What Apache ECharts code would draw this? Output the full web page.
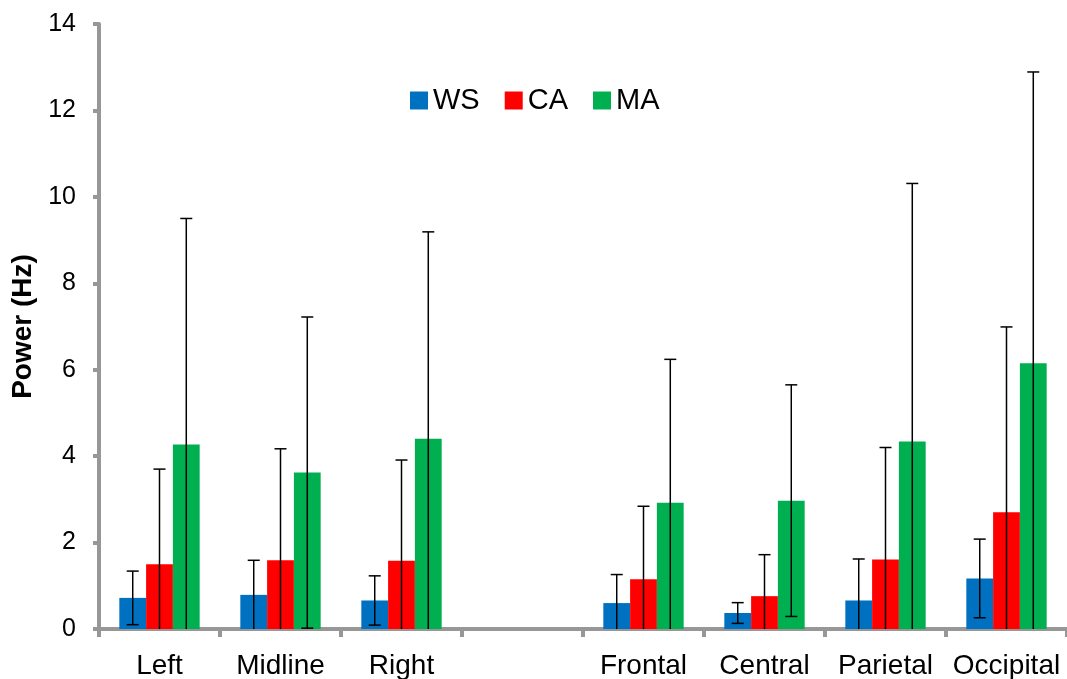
<!DOCTYPE html>
<html>
<head>
<meta charset="utf-8">
<script src="https://cdn.jsdelivr.net/npm/echarts@6/dist/echarts.min.js"></script>
<style>
html,body{margin:0;padding:0;background:#fff;}
#chart{width:1067px;height:679px;}
</style>
</head>
<body>
<div id="chart"></div>
<script>
var categories = ['Left', 'Midline', 'Right', '', 'Frontal', 'Central', 'Parietal', 'Occipital'];
var yTicks = [0, 2, 4, 6, 8, 10, 12, 14];
var wsValues = [0.72, 0.79, 0.66, null, 0.60, 0.37, 0.66, 1.17];
var wsErrors = [0.62, 0.80, 0.57, null, 0.66, 0.24, 0.96, 0.91];
var caValues = [1.50, 1.59, 1.58, null, 1.15, 0.76, 1.61, 2.70];
var caErrors = [2.20, 2.58, 2.33, null, 1.69, 0.96, 2.59, 4.29];
var maValues = [4.27, 3.62, 4.40, null, 2.92, 2.97, 4.34, 6.15];
var maErrors = [5.23, 3.60, 4.79, null, 3.32, 2.68, 5.97, 6.74];

var FONT = '"Liberation Sans", Arial, sans-serif';
var GAP = 0.336;

function errData(vals, errs) {
  var out = [];
  for (var i = 0; i < vals.length; i++) {
    if (vals[i] == null) continue;
    out.push([i, vals[i], errs[i]]);
  }
  return out;
}

function errSeries(name, vals, errs, k) {
  return {
    type: 'custom',
    name: name,
    data: errData(vals, errs),
    encode: { x: 0, y: 1 },
    z: 10,
    silent: true,
    renderItem: function (params, api) {
      var idx = api.value(0);
      var v = api.value(1);
      var e = api.value(2);
      var band = api.size([1, 0])[0];
      var barW = band * (1 - GAP) / 3;
      var cx = api.coord([idx, v])[0] + (k - 1) * barW;
      var hi = v + e;
      var lo = v - e;
      var yHi = api.coord([idx, hi])[1];
      var loClipped = lo < 0;
      var yLo = api.coord([idx, loClipped ? 0 : lo])[1];
      var cap = 6;
      var style = { stroke: '#000', lineWidth: 1.5 };
      var children = [
        { type: 'line', shape: { x1: cx, y1: yHi, x2: cx, y2: yLo }, style: style },
        { type: 'line', shape: { x1: cx - cap, y1: yHi, x2: cx + cap, y2: yHi }, style: style }
      ];
      if (!loClipped) {
        children.push({ type: 'line', shape: { x1: cx - cap, y1: yLo, x2: cx + cap, y2: yLo }, style: style });
      }
      return { type: 'group', children: children };
    }
  };
}

var chart = echarts.init(document.getElementById('chart'), null, { renderer: 'canvas' });
chart.setOption({
  animation: false,
  backgroundColor: '#fff',
  textStyle: { fontFamily: FONT },
  grid: { left: 99, right: 0, top: 24, bottom: 50, containLabel: false, outerBoundsMode: 'none' },
  legend: {
    data: ['WS', 'CA', 'MA'],
    left: 405,
    top: 81,
    icon: 'rect',
    itemWidth: 18,
    itemHeight: 18,
    itemGap: 25,
    textStyle: { fontSize: 29, color: '#000', fontFamily: FONT }
  },
  xAxis: {
    type: 'category',
    data: categories,
    axisLine: { lineStyle: { color: '#979797', width: 4 } },
    axisTick: { show: true, length: 8, interval: 0, alignWithLabel: false, lineStyle: { color: '#979797', width: 4 } },
    axisLabel: { fontSize: 28, color: '#000', margin: 23, interval: 0, fontFamily: FONT },
    splitLine: { show: false }
  },
  yAxis: {
    type: 'value',
    min: yTicks[0],
    max: yTicks[yTicks.length - 1],
    interval: 2,
    name: 'Power (Hz)',
    nameLocation: 'middle',
    nameGap: 52,
    nameTextStyle: { fontSize: 28, fontWeight: 'bold', color: '#000', fontFamily: FONT },
    axisLine: { show: true, lineStyle: { color: '#979797', width: 4 } },
    axisTick: { show: true, length: 6, lineStyle: { color: '#979797', width: 4 } },
    axisLabel: { fontSize: 25, color: '#000', margin: 23, fontFamily: FONT },
    splitLine: { show: false }
  },
  series: [
    { name: 'WS', type: 'bar', data: wsValues, barGap: '0%', barCategoryGap: (GAP * 100) + '%', itemStyle: { color: '#0070C0' } },
    { name: 'CA', type: 'bar', data: caValues, itemStyle: { color: '#FF0000' } },
    { name: 'MA', type: 'bar', data: maValues, itemStyle: { color: '#00B050' } },
    errSeries('WS err', wsValues, wsErrors, 0),
    errSeries('CA err', caValues, caErrors, 1),
    errSeries('MA err', maValues, maErrors, 2)
  ]
});
</script>
</body>
</html>
